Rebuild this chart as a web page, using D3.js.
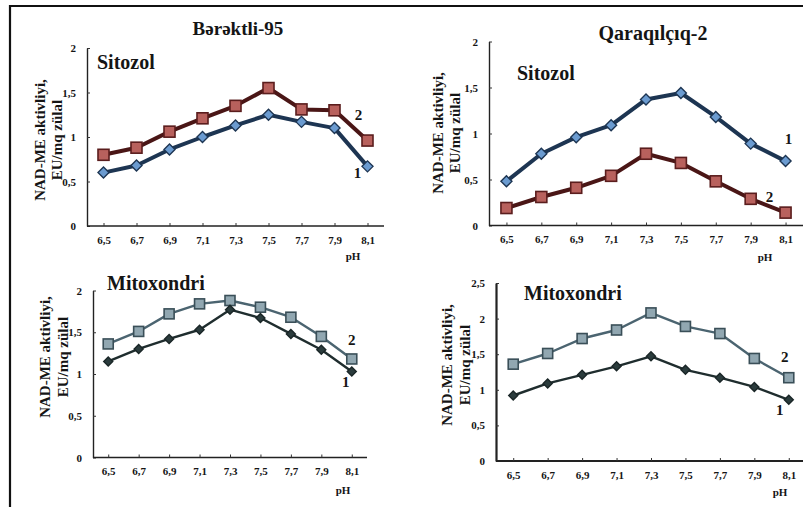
<!DOCTYPE html>
<html><head><meta charset="utf-8">
<script src="https://cdn.jsdelivr.net/npm/d3@7"></script>
<style>
body{margin:0;background:#fff}
svg{display:block}
text{font-family:"Liberation Serif","Times New Roman",Times,Tinos,"DejaVu Serif",serif;font-weight:bold;fill:#151515}
</style>
</head><body>
<svg id="chart" width="803" height="507"></svg>
<script>
// pH categories shared by all four panels
const phLabels = ["6,5","6,7","6,9","7,1","7,3","7,5","7,7","7,9","8,1"];

// NAD-ME activity, EU/mg protein (series 1 and 2)
const barSitozol1 = [0.60,0.68,0.86,1.00,1.13,1.25,1.17,1.10,0.67];
const barSitozol2 = [0.80,0.88,1.06,1.21,1.35,1.55,1.31,1.30,0.96];
const qarSitozol1 = [0.48,0.78,0.96,1.09,1.37,1.44,1.18,0.89,0.70];
const qarSitozol2 = [0.19,0.31,0.41,0.54,0.78,0.68,0.48,0.29,0.14];
const barMitoxondri1 = [1.15,1.30,1.42,1.53,1.77,1.67,1.48,1.29,1.03];
const barMitoxondri2 = [1.36,1.51,1.72,1.84,1.88,1.80,1.68,1.45,1.18];
const qarMitoxondri1 = [0.92,1.09,1.21,1.33,1.47,1.28,1.17,1.04,0.86];
const qarMitoxondri2 = [1.36,1.51,1.72,1.84,2.08,1.89,1.79,1.44,1.17];

// y-axis tick values
const yTicks2 = [0,0.5,1,1.5,2];
const yTicks25 = [0,0.5,1,1.5,2,2.5];

const yTitle = ["NAD-ME aktivliyi,", "EU/mq zülal"];

const svg = d3.select("#chart");
const FONT = "'Liberation Serif','Times New Roman',Times,Tinos,'DejaVu Serif',serif";

// outer frame (top and left edges)
svg.append("path").attr("d","M10,507V6H803").attr("fill","none")
  .attr("stroke","#111").attr("stroke-width",2.2);

// styles for the two colour schemes
const sitStyle = {
  s1: {line:"#1d3552", fill:"#6b9bd0", stroke:"#1d3552", shape:"diamond", size:9, lw:4},
  s2: {line:"#4a1616", fill:"#b8615d", stroke:"#5a1d1d", shape:"square", size:11, lw:4}
};
const mitStyle = {
  s1: {line:"#1f2d2e", fill:"#2b3c3d", stroke:"#1a2627", shape:"diamond", size:7, lw:2.4},
  s2: {line:"#4b6470", fill:"#91a7b1", stroke:"#3a4f58", shape:"square", size:10, lw:2.4}
};

const panels = [
  {x0:87, x1:384, yTop:48, yBot:226, yMax:2, ticks:yTicks2, s1:barSitozol1, s2:barSitozol2, st:sitStyle,
   lab1:[-10,7], lab2:[-9,-26], name:"Sitozol", nameXY:[97,62], ytXY:[[40,140],[57,140]], phXY:[353,256],
   axisW:1.4},
  {x0:489, x1:803, yTop:41.5, yBot:225.5, yMax:2, ticks:yTicks2, s1:qarSitozol1, s2:qarSitozol2, st:sitStyle,
   lab1:[3,-22], lab2:[-16,-16], name:"Sitozol", nameXY:[517,73], ytXY:[[438,133],[455,133]], phXY:[765,257],
   axisW:1.4},
  {x0:93, x1:367, yTop:290.5, yBot:457.5, yMax:2, ticks:yTicks2, s1:barMitoxondri1, s2:barMitoxondri2, st:mitStyle,
   lab1:[-6,11], lab2:[0,-19], name:"Mitoxondri", nameXY:[107,283], ytXY:[[45,357],[63,357]], phXY:[343,490],
   axisW:1.4},
  {x0:496, x1:806, yTop:283, yBot:461, yMax:2.5, ticks:yTicks25, s1:qarMitoxondri1, s2:qarMitoxondri2, st:mitStyle,
   lab1:[-9,10], lab2:[-4,-21], name:"Mitoxondri", nameXY:[524,293], ytXY:[[447,365],[465,365]], phXY:[780,492],
   axisW:2.2}
];

const fmt = d => String(d).replace(".", ",");

function marker(g, shape, size, fill, stroke) {
  if (shape === "square") {
    g.append("rect").attr("x",-size/2).attr("y",-size/2).attr("width",size).attr("height",size)
      .attr("fill",fill).attr("stroke",stroke).attr("stroke-width",1.6);
  } else {
    const r = size/2 + 1;
    g.append("path").attr("d",`M0,${-r}L${r},0L0,${r}L${-r},0Z`)
      .attr("fill",fill).attr("stroke",stroke).attr("stroke-width",1.4);
  }
}

panels.forEach(p => {
  const x = d3.scalePoint().domain(phLabels).range([p.x0, p.x1]).padding(0.5);
  const y = d3.scaleLinear().domain([0, p.yMax]).range([p.yBot, p.yTop]);
  const g = svg.append("g");

  // axes
  const yAxis = g.append("g").attr("transform",`translate(${p.x0},0)`)
    .call(d3.axisLeft(y).tickValues(p.ticks).tickFormat(fmt).tickSizeInner(-3).tickSizeOuter(0).tickPadding(11));
  const xAxis = g.append("g").attr("transform",`translate(0,${p.yBot})`)
    .call(d3.axisBottom(x).tickSizeInner(-3).tickSizeOuter(0).tickPadding(10));
  [yAxis, xAxis].forEach(a => {
    a.select(".domain").attr("stroke","#222").attr("stroke-width",p.axisW);
    a.selectAll(".tick line").attr("stroke","#333").attr("stroke-width",1);
    a.selectAll("text").attr("font-size",11).attr("fill","#151515")
      .attr("font-family",FONT).attr("font-weight","bold");
  });
  xAxis.select(".domain").attr("d",`M${p.x0},0H${p.x1}`);

  // series lines and markers
  [["s2", p.s2], ["s1", p.s1]].forEach(([key, vals]) => {
    const st = p.st[key];
    const line = d3.line().x((d,i) => x(phLabels[i])).y(d => y(d));
    g.append("path").datum(vals).attr("d",line).attr("fill","none")
      .attr("stroke",st.line).attr("stroke-width",st.lw).attr("stroke-linejoin","round");
    vals.forEach((v,i) => {
      const m = g.append("g").attr("transform",`translate(${x(phLabels[i])},${y(v)})`);
      marker(m, st.shape, st.size, st.fill, st.stroke);
    });
  });

  // series numbers next to the last points
  const last = phLabels[phLabels.length-1];
  [["1", p.s1, p.lab1], ["2", p.s2, p.lab2]].forEach(([t, vals, off]) => {
    g.append("text").attr("x", x(last)+off[0]).attr("y", y(vals[vals.length-1])+off[1])
      .attr("text-anchor","middle").attr("dominant-baseline","central").attr("font-size",15).text(t);
  });

  // panel name
  g.append("text").attr("x",p.nameXY[0]).attr("y",p.nameXY[1]).attr("dominant-baseline","central")
    .attr("font-size",20).text(p.name);

  // y title (two rotated lines)
  yTitle.forEach((t,i) => {
    g.append("text").attr("transform",`translate(${p.ytXY[i][0]},${p.ytXY[i][1]}) rotate(-90)`)
      .attr("text-anchor","middle").attr("dominant-baseline","central").attr("font-size",15).text(t);
  });

  // x title
  g.append("text").attr("x",p.phXY[0]).attr("y",p.phXY[1]).attr("text-anchor","middle")
    .attr("dominant-baseline","central").attr("font-size",11).text("pH");
});

// variety titles
svg.append("text").attr("x",238).attr("y",28).attr("text-anchor","middle").attr("dominant-baseline","central")
  .attr("font-size",19).text("Bərəktli-95");
svg.append("text").attr("x",653).attr("y",33).attr("text-anchor","middle").attr("dominant-baseline","central")
  .attr("font-size",20).text("Qaraqılçıq-2");
</script>
</body></html>
